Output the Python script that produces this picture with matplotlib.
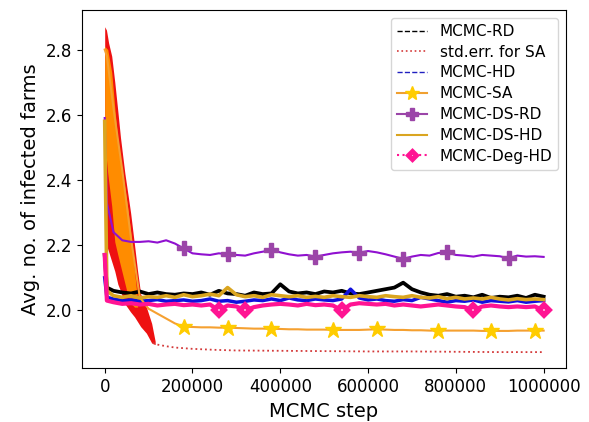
import numpy as np
import matplotlib
matplotlib.use("Agg")
import matplotlib.pyplot as plt

# sample positions (MCMC step) for the long runs
steps = np.concatenate([[0, 5000], np.arange(20000, 1000001, 20000)])

rd = [2.17, 2.07,
      2.060, 2.055, 2.052, 2.058, 2.050, 2.055, 2.050, 2.048, 2.052, 2.050,
      2.055, 2.048, 2.060, 2.052, 2.050, 2.045, 2.055, 2.050, 2.052, 2.080,
      2.058, 2.052, 2.055, 2.050, 2.058, 2.055, 2.060, 2.052, 2.050, 2.055,
      2.060, 2.065, 2.070, 2.085, 2.065, 2.055, 2.048, 2.045, 2.050, 2.042,
      2.045, 2.040, 2.048, 2.038, 2.042, 2.040, 2.045, 2.038, 2.048, 2.042]

hd = [2.10, 2.04,
      2.035, 2.030, 2.032, 2.028, 2.030, 2.033, 2.028, 2.030, 2.032, 2.028,
      2.030, 2.035, 2.028, 2.030, 2.025, 2.028, 2.032, 2.030, 2.035, 2.030,
      2.038, 2.032, 2.030, 2.035, 2.032, 2.030, 2.035, 2.065, 2.038, 2.032,
      2.035, 2.030, 2.028, 2.033, 2.030, 2.040, 2.035, 2.030, 2.025, 2.030,
      2.028, 2.032, 2.025, 2.030, 2.028, 2.026, 2.030, 2.025, 2.028, 2.030]

sa = [2.80, 2.78,
      2.62, 2.43, 2.22, 2.04, 2.005, 1.990, 1.975, 1.960, 1.950, 1.949,
      1.948, 1.948, 1.947, 1.947, 1.946, 1.945, 1.944, 1.944, 1.943, 1.943,
      1.942, 1.942, 1.941, 1.941, 1.941, 1.940, 1.940, 1.940, 1.940, 1.941,
      1.942, 1.941, 1.940, 1.940, 1.939, 1.939, 1.938, 1.938, 1.938, 1.938,
      1.938, 1.938, 1.937, 1.937, 1.937, 1.937, 1.938, 1.938, 1.938, 1.938]
sa_marks = [10, 15, 20, 27, 32, 39, 45, 50]

dsrd = [2.59, 2.33,
        2.240, 2.215, 2.210, 2.210, 2.212, 2.208, 2.215, 2.205, 2.190, 2.175,
        2.172, 2.170, 2.175, 2.172, 2.170, 2.168, 2.175, 2.180, 2.185, 2.178,
        2.172, 2.168, 2.170, 2.165, 2.170, 2.175, 2.178, 2.180, 2.177, 2.182,
        2.178, 2.172, 2.165, 2.158, 2.165, 2.170, 2.168, 2.176, 2.178, 2.170,
        2.168, 2.165, 2.170, 2.168, 2.166, 2.160, 2.168, 2.165, 2.166, 2.164]
dsrd_marks = [10, 15, 20, 25, 30, 35, 40, 47]

dshd = [2.58, 2.06,
        2.045, 2.040, 2.045, 2.038, 2.042, 2.040, 2.045, 2.040, 2.048, 2.042,
        2.045, 2.050, 2.045, 2.070, 2.048, 2.042, 2.045, 2.040, 2.048, 2.045,
        2.042, 2.045, 2.040, 2.043, 2.040, 2.045, 2.042, 2.040, 2.045, 2.042,
        2.040, 2.045, 2.042, 2.040, 2.045, 2.040, 2.038, 2.042, 2.036, 2.040,
        2.035, 2.038, 2.035, 2.040, 2.035, 2.032, 2.036, 2.033, 2.035, 2.033]

deg = [2.17, 2.03,
       2.025, 2.020, 2.022, 2.018, 2.020, 2.015, 2.018, 2.020, 2.016, 2.018,
       2.015, 2.018, 2.000, 2.015, 2.012, 2.000, 2.010, 2.015, 2.018, 2.020,
       2.018, 2.015, 2.020, 2.016, 2.018, 2.015, 2.000, 2.018, 2.022, 2.020,
       2.018, 2.020, 2.015, 2.018, 2.015, 2.012, 2.015, 2.018, 2.015, 2.012,
       2.010, 2.000, 2.012, 2.015, 2.012, 2.010, 2.012, 2.010, 2.012, 2.000]
deg_marks = [14, 17, 28, 43, 51]

# early burn-in of SA oscillates wildly -> drawn as envelope bands
band_x = [0, 7000, 16000, 23000, 30000, 41000, 52000, 61000, 68000, 75000]
band_hi = [2.81, 2.80, 2.73, 2.62, 2.52, 2.42, 2.32, 2.22, 2.12, 2.03]
band_lo = [2.52, 2.42, 2.32, 2.21, 2.17, 2.11, 2.05, 2.02, 2.01, 2.01]

err_x = [0, 4000, 9000, 16000, 23000, 30000, 36000, 46000, 59000, 68000, 75000, 82000, 95000, 107000, 115000]
err_hi = [2.87, 2.86, 2.82, 2.78, 2.70, 2.61, 2.53, 2.42, 2.30, 2.20, 2.12, 2.05, 2.01, 1.96, 1.905]
err_lo = [2.22, 2.20, 2.18, 2.15, 2.12, 2.08, 2.06, 2.02, 1.995, 1.98, 1.965, 1.95, 1.93, 1.90, 1.895]

# std.err. tail after burn-in
tail_x = [110000, 120000, 140000, 160000, 180000, 200000, 250000, 300000, 400000,
          500000, 600000, 700000, 800000, 900000, 1000000]
tail_y = [1.900, 1.895, 1.890, 1.886, 1.884, 1.882, 1.879, 1.877, 1.876,
          1.875, 1.874, 1.874, 1.873, 1.872, 1.872]

plt.figure(figsize=(5.89, 4.22), dpi=100)
ax = plt.axes([0.139, 0.127, 0.822, 0.849])

ax.plot(steps, rd, color='k', lw=2.7)

ax.fill_between(err_x, err_lo, err_hi, color='#ee1111', lw=0)
ax.plot(tail_x, tail_y, color='#d43a3a', ls=':', lw=1.3)

ax.plot(steps, hd, color='#1010dd', lw=2.5)

ax.fill_between(band_x, band_lo, band_hi, color='#ff8c00', lw=0)
ax.plot(steps, sa, color='#f5a030', lw=1.5, marker='*', ms=12,
        mfc='#ffcc00', mec='#ffcc00', markevery=sa_marks)

ax.plot(steps, dsrd, color='#9010d0', lw=1.5, marker='P', ms=10,
        mfc='#9b45a8', mec='#9b45a8', markevery=dsrd_marks)

ax.plot(steps, dshd, color='#daa520', lw=2.6)

ax.plot(steps, deg, color='#ff1493', lw=3, marker='D', ms=5,
        mfc='white', mec='#ff1493', mew=4, markevery=deg_marks)

# legend entries use the nominal line styles
ax.plot([], [], 'k--', lw=1, label='MCMC-RD')
ax.plot([], [], color='#d43a3a', ls=':', lw=1.2, label='std.err. for SA')
ax.plot([], [], color='#2020c0', ls='--', lw=1, label='MCMC-HD')
ax.plot([], [], color='#f0a030', lw=1.5, marker='*', ms=10, mfc='#ffcc00', mec='#ffcc00', label='MCMC-SA')
ax.plot([], [], color='#9b45a8', lw=1.5, marker='P', ms=9, label='MCMC-DS-RD')
ax.plot([], [], color='#daa520', lw=1.5, label='MCMC-DS-HD')
ax.plot([], [], color='#ff1493', ls=':', lw=1.5, marker='D', ms=4,
        mfc='white', mec='#ff1493', mew=3.5, label='MCMC-Deg-HD')

handles, labels = ax.get_legend_handles_labels()
ax.legend(handles, labels, loc='upper right', fontsize=11, labelspacing=0.38)

ax.set_xlim(-52000, 1051000)
ax.set_ylim(1.822, 2.921)
ax.set_xticks([0, 200000, 400000, 600000, 800000, 1000000])
ax.set_xticklabels(['0', '200000', '400000', '600000', '800000', '1000000'])
ax.set_yticks([2.0, 2.2, 2.4, 2.6, 2.8])
ax.tick_params(labelsize=12)
ax.set_xlabel('MCMC step', fontsize=14)
ax.set_ylabel('Avg. no. of infected farms', fontsize=14)

plt.savefig('out.png', dpi=100)
